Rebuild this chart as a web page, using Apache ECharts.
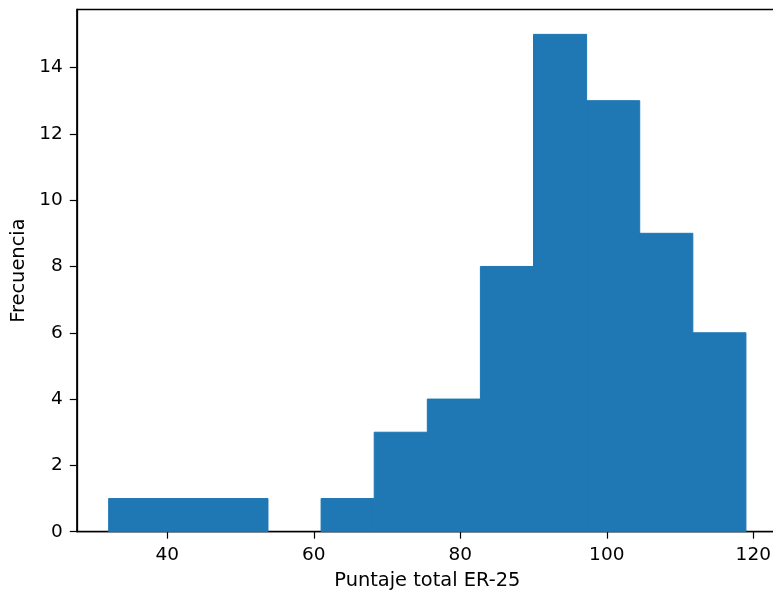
<!DOCTYPE html>
<html>
<head>
<meta charset="utf-8">
<script src="https://cdn.jsdelivr.net/npm/echarts@6/dist/echarts.min.js"></script>
<style>html,body{margin:0;padding:0;background:#fff}#c{width:773px;height:596px}</style>
</head>
<body>
<div id="c"></div>
<script>
var binEdges = [32, 39.25, 46.5, 53.75, 61, 68.25, 75.5, 82.75, 90, 97.25, 104.5, 111.75, 119];
var counts = [1, 1, 1, 0, 1, 3, 4, 8, 15, 13, 9, 6];
var xTicks = [40, 60, 80, 100, 120];
var yTicks = [0, 2, 4, 6, 8, 10, 12, 14];

var data = counts.map(function (c, i) { return [binEdges[i], binEdges[i + 1], c]; });
var font = 'DejaVu Sans';
var chart = echarts.init(document.getElementById('c'), null, {renderer: 'canvas'});
chart.setOption({
  animation: false,
  grid: {left: 76.8, top: 9.5, width: 701, height: 522.2, outerBoundsMode: 'none', containLabel: false, show: true, borderColor: '#000', borderWidth: 1.3, backgroundColor: 'transparent'},
  xAxis: {
    type: 'value', min: 27.65, max: 123.35,
    name: 'Puntaje total ER-25', nameLocation: 'middle', nameGap: 40,
    nameTextStyle: {fontFamily: font, fontSize: 19.4, color: '#000'},
    splitLine: {show: false},
    axisLine: {show: true, lineStyle: {color: '#000', width: 1.3}},
    axisTick: {show: true, inside: false, length: 7, lineStyle: {color: '#000', width: 1.2}, customValues: xTicks},
    axisLabel: {fontFamily: font, fontSize: 18.5, color: '#000', margin: 14, customValues: xTicks}
  },
  yAxis: {
    type: 'value', min: 0, max: 15.75,
    name: 'Frecuencia', nameLocation: 'middle', nameGap: 47,
    nameTextStyle: {fontFamily: font, fontSize: 19.4, color: '#000'},
    splitLine: {show: false},
    axisLine: {show: true, lineStyle: {color: '#000', width: 1.3}},
    axisTick: {show: true, inside: false, length: 7, lineStyle: {color: '#000', width: 1.2}, customValues: yTicks},
    axisLabel: {fontFamily: font, fontSize: 18.5, color: '#000', margin: 14, customValues: yTicks}
  },
  series: [{
    type: 'custom',
    data: data,
    encode: {x: [0, 1], y: 2},
    renderItem: function (params, api) {
      if (api.value(2) === 0) return null;
      var p0 = api.coord([api.value(0), 0]);
      var p1 = api.coord([api.value(1), api.value(2)]);
      return {
        type: 'rect',
        shape: {x: p0[0], y: p1[1], width: p1[0] - p0[0], height: p0[1] - p1[1]},
        style: {fill: '#1f77b4', stroke: '#1f77b4', lineWidth: 1}
      };
    }
  }]
});
</script>
</body>
</html>
